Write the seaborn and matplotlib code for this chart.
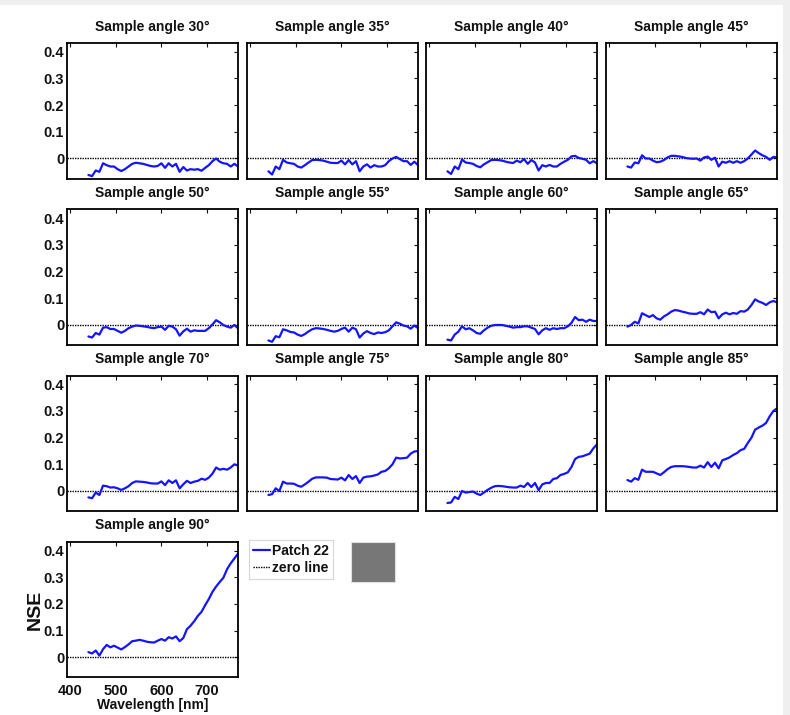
import numpy as np
import pandas as pd
import matplotlib
matplotlib.use("Agg")
import matplotlib.pyplot as plt
from matplotlib.patches import Rectangle
from matplotlib.lines import Line2D
import seaborn as sns

# wavelength grid [nm]
wavelength = [440, 448, 456, 464, 472, 480, 488, 496, 504, 512, 520, 528, 536, 544,
              552, 560, 568, 576, 584, 592, 600, 608, 616, 624, 632, 640, 648, 656,
              664, 672, 680, 688, 696, 704, 712, 720, 728, 736, 744, 752, 760, 768]

angles = [30, 35, 40, 45, 50, 55, 60, 65, 70, 75, 80, 85, 90]

nse_30 = [-0.062, -0.066, -0.045, -0.05, -0.018, -0.025, -0.03, -0.03, -0.04, -0.047, -0.04, -0.03, -0.02, -0.016,
          -0.018, -0.02, -0.024, -0.028, -0.03, -0.028, -0.018, -0.035, -0.018, -0.03, -0.02, -0.05, -0.032, -0.045,
          -0.04, -0.042, -0.04, -0.046, -0.035, -0.025, -0.01, 0.0, -0.012, -0.018, -0.02, -0.03, -0.02, -0.03]
nse_35 = [-0.048, -0.06, -0.03, -0.04, -0.005, -0.015, -0.018, -0.02, -0.03, -0.034, -0.025, -0.015, -0.006, -0.005,
          -0.006, -0.008, -0.012, -0.016, -0.017, -0.017, -0.008, -0.022, -0.006, -0.022, -0.01, -0.048, -0.03, -0.022,
          -0.034, -0.025, -0.03, -0.03, -0.025, -0.01, 0.0, 0.006, -0.002, -0.01, -0.01, -0.024, -0.012, -0.025]
nse_40 = [-0.048, -0.058, -0.03, -0.04, -0.004, -0.015, -0.017, -0.02, -0.028, -0.033, -0.022, -0.014, -0.006, -0.005,
          -0.006, -0.008, -0.012, -0.015, -0.017, -0.008, -0.014, -0.002, -0.02, -0.006, -0.015, -0.045, -0.025, -0.03,
          -0.024, -0.03, -0.03, -0.02, -0.012, -0.005, 0.008, 0.01, 0.002, -0.001, -0.005, -0.018, -0.01, -0.018]
nse_45 = [-0.03, -0.034, -0.015, -0.018, 0.012, 0.0, 0.0, -0.008, -0.014, -0.012, -0.006, 0.004, 0.01, 0.01,
          0.008, 0.006, 0.002, 0.0, -0.001, 0.0, -0.008, 0.004, 0.007, -0.005, 0.003, -0.03, -0.012, -0.016,
          -0.01, -0.016, -0.01, -0.016, -0.01, 0.0, 0.015, 0.03, 0.02, 0.012, 0.006, -0.005, 0.006, 0.004]
nse_50 = [-0.043, -0.047, -0.03, -0.036, -0.01, -0.008, -0.015, -0.015, -0.022, -0.029, -0.022, -0.012, -0.006, -0.002,
          -0.003, -0.005, -0.007, -0.01, -0.012, -0.008, -0.006, -0.018, -0.003, -0.006, -0.016, -0.04, -0.024, -0.014,
          -0.025, -0.02, -0.022, -0.022, -0.022, -0.012, 0.002, 0.018, 0.01, 0.0, -0.006, -0.01, 0.0, -0.012]
nse_55 = [-0.058, -0.063, -0.042, -0.046, -0.016, -0.02, -0.026, -0.028, -0.036, -0.041, -0.034, -0.024, -0.016, -0.012,
          -0.013, -0.015, -0.018, -0.022, -0.025, -0.022, -0.015, -0.01, -0.025, -0.01, -0.016, -0.047, -0.032, -0.023,
          -0.03, -0.034, -0.028, -0.03, -0.027, -0.02, -0.005, 0.01, 0.005, -0.002, -0.005, -0.014, -0.002, -0.012]
nse_60 = [-0.055, -0.058, -0.036, -0.025, -0.005, -0.016, -0.012, -0.02, -0.03, -0.033, -0.02, -0.01, -0.003, 0.0,
          0.0, 0.0, -0.003, -0.006, -0.01, -0.008, -0.008, -0.005, -0.005, -0.01, -0.015, -0.035, -0.02, -0.012,
          -0.018, -0.012, -0.015, -0.012, -0.012, -0.005, 0.008, 0.03, 0.018, 0.02, 0.012, 0.02, 0.015, 0.015]
nse_65 = [-0.006, 0.0, 0.012, 0.006, 0.044, 0.037, 0.03, 0.037, 0.025, 0.02, 0.032, 0.04, 0.05, 0.056,
          0.054, 0.05, 0.047, 0.043, 0.042, 0.042, 0.048, 0.04, 0.058, 0.048, 0.05, 0.025, 0.04, 0.046,
          0.04, 0.045, 0.042, 0.052, 0.05, 0.058, 0.075, 0.096, 0.088, 0.083, 0.075, 0.085, 0.09, 0.085]
nse_70 = [-0.024, -0.027, -0.006, -0.015, 0.02, 0.018, 0.013, 0.014, 0.01, 0.004, 0.01, 0.018, 0.03, 0.036,
          0.035, 0.034, 0.032, 0.029, 0.028, 0.028, 0.036, 0.022, 0.04, 0.03, 0.04, 0.01, 0.025, 0.038,
          0.03, 0.035, 0.038, 0.046, 0.042, 0.05, 0.065, 0.088, 0.08, 0.083, 0.08, 0.088, 0.1, 0.095]
nse_75 = [-0.015, -0.012, 0.01, 0.0, 0.035, 0.028, 0.028, 0.027, 0.02, 0.016, 0.025, 0.035, 0.046, 0.051,
          0.051, 0.051, 0.05, 0.045, 0.044, 0.043, 0.05, 0.04, 0.06, 0.045, 0.056, 0.03, 0.05, 0.054,
          0.055, 0.058, 0.062, 0.072, 0.075, 0.085, 0.1, 0.125, 0.122, 0.123, 0.125, 0.14, 0.148, 0.15]
nse_80 = [-0.045, -0.043, -0.022, -0.03, 0.0, -0.006, -0.004, -0.002, -0.01, -0.015, -0.006, 0.004, 0.012, 0.018,
          0.019, 0.018, 0.016, 0.014, 0.013, 0.013, 0.02, 0.015, 0.03, 0.015, 0.03, 0.003, 0.025, 0.03,
          0.03, 0.045, 0.048, 0.06, 0.064, 0.07, 0.09, 0.12, 0.128, 0.13, 0.135, 0.14, 0.16, 0.175]
nse_85 = [0.041, 0.035, 0.048, 0.042, 0.08, 0.072, 0.072, 0.072, 0.066, 0.06, 0.07, 0.082, 0.09, 0.093,
          0.093, 0.093, 0.092, 0.09, 0.088, 0.088, 0.095, 0.088, 0.108, 0.09, 0.106, 0.085, 0.115, 0.12,
          0.126, 0.135, 0.142, 0.153, 0.158, 0.18, 0.2, 0.23, 0.238, 0.245, 0.255, 0.28, 0.3, 0.31]
nse_90 = [0.019, 0.014, 0.025, 0.006, 0.03, 0.046, 0.037, 0.043, 0.036, 0.029, 0.038, 0.048, 0.06, 0.062,
          0.065, 0.062, 0.058, 0.056, 0.055, 0.062, 0.068, 0.062, 0.075, 0.07, 0.078, 0.06, 0.072, 0.105,
          0.118, 0.135, 0.155, 0.17, 0.195, 0.218, 0.245, 0.265, 0.282, 0.298, 0.33, 0.352, 0.37, 0.388]

series = [nse_30, nse_35, nse_40, nse_45, nse_50, nse_55, nse_60,
          nse_65, nse_70, nse_75, nse_80, nse_85, nse_90]

y_ticks = [0, 0.1, 0.2, 0.3, 0.4]
y_tick_labels = ["0", "0.1", "0.2", "0.3", "0.4"]
x_ticks = [400, 500, 600, 700]

frames = [pd.DataFrame({"Wavelength": wavelength, "NSE": vals, "angle": a})
          for a, vals in zip(angles, series)]
df = pd.concat(frames, ignore_index=True)

sns.set_style("white")
plt.rcParams["font.family"] = ["Liberation Sans", "DejaVu Sans"]
plt.rcParams["font.weight"] = "bold"
plt.rcParams["axes.labelweight"] = "bold"
plt.rcParams["axes.titleweight"] = "bold"
plt.rcParams["text.color"] = "#111111"
plt.rcParams["axes.labelcolor"] = "#111111"
plt.rcParams["xtick.color"] = "#111111"
plt.rcParams["ytick.color"] = "#111111"

W, H = 790, 715
fig = plt.figure(figsize=(W / 100, H / 100), dpi=100)
fig.patch.set_facecolor("white")

# light grey margins along the top and right
fig.patches.append(Rectangle((0, 1 - 5 / H), 1, 5 / H, transform=fig.transFigure,
                             facecolor="#efefef", edgecolor="none", zorder=0))
fig.patches.append(Rectangle(((W - 7) / W, 0), 7 / W, 1, transform=fig.transFigure,
                             facecolor="#efefef", edgecolor="none", zorder=0))

col_left = [67, 247, 426, 606]
row_top = [43, 209.5, 375.5, 541.7]
ax_w, ax_h = 171, 135.5

blue = "#1414ff"
line_kw = dict(color="black", linestyle=(0, (1, 0.8)), linewidth=1.0)

axes = []
for i, a in enumerate(angles):
    r, c = divmod(i, 4)
    rect = [col_left[c] / W, 1 - (row_top[r] + ax_h) / H, ax_w / W, ax_h / H]
    ax = fig.add_axes(rect)
    sub = df[df["angle"] == a]
    ax.axhline(0, **line_kw, zorder=1)
    sns.lineplot(data=sub, x="Wavelength", y="NSE", ax=ax, color=blue,
                 linewidth=1.6, zorder=2)
    ax.set_xlim(393, 768)
    ax.set_ylim(-0.075, 0.433)
    ax.set_xticks(x_ticks)
    ax.set_yticks(y_ticks)
    ax.tick_params(direction="in", top=True, right=True, length=3, width=0.8,
                   labelsize=10.5, pad=2)
    ax.tick_params(axis="x", pad=5)
    for s in ax.spines.values():
        s.set_linewidth(1.3)
        s.set_color("black")
    if c == 0:
        ax.set_yticklabels(y_tick_labels, fontweight="bold")
    else:
        ax.set_yticklabels([])
    if a == 90:
        ax.set_xticklabels([str(t) for t in x_ticks], fontweight="bold")
        ax.set_xlabel("Wavelength [nm]", fontsize=10, fontweight="bold", labelpad=0)
        ax.set_ylabel("NSE", fontsize=14, fontweight="bold", labelpad=0)
    else:
        ax.set_xticklabels([])
        ax.set_xlabel("")
        ax.set_ylabel("")
    ax.set_title(f"Sample angle {a}°", fontsize=10, fontweight="bold", pad=9)
    axes.append(ax)

handles = [Line2D([], [], color=blue, linewidth=1.6),
           Line2D([], [], **line_kw)]
leg = fig.legend(handles, ["Patch 22", "zero line"], loc="upper left",
                 bbox_to_anchor=(249 / W, 1 - 540 / H), frameon=True,
                 prop={"size": 10, "weight": "bold"}, handlelength=1.2,
                 handletextpad=0.15, borderpad=0.3, labelspacing=0.2,
                 borderaxespad=0, fancybox=False)
leg.get_frame().set_edgecolor("#cccccc")
leg.get_frame().set_linewidth(0.8)

# grey colour swatch beside the legend
fig.patches.append(Rectangle((351 / W, 1 - 582 / H), 44 / W, 40 / H,
                             transform=fig.transFigure, facecolor="#777777",
                             edgecolor="#e0e0e0", linewidth=0.8, zorder=3))

fig.savefig("out.png", dpi=100, facecolor=fig.get_facecolor())
